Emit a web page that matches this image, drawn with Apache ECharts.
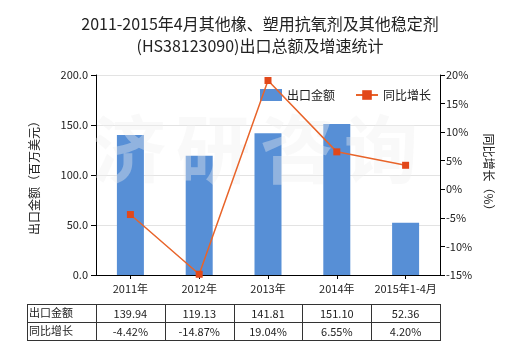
<!DOCTYPE html>
<html><head><meta charset="utf-8">
<script src="https://cdn.jsdelivr.net/npm/echarts@6/dist/echarts.min.js"></script>
<style>html,body{margin:0;padding:0;background:#fff}#c{width:520px;height:350px}</style>
</head><body><div id="c"></div>
<script>
const categories = ['2011年','2012年','2013年','2014年','2015年1-4月'];
const exportValues = [139.94, 119.13, 141.81, 151.10, 52.36];
const growthValues = [-4.42, -14.87, 19.04, 6.55, 4.20];
const exportLabels = ['139.94','119.13','141.81','151.10','52.36'];
const growthLabels = ['-4.42%','-14.87%','19.04%','6.55%','4.20%'];
const rowNames = ['出口金额','同比增长'];
const watermarkChars = ['济','研','咨','询'];

const FONT = '"Noto Sans CJK SC", "Noto Sans", sans-serif';
const chart = echarts.init(document.getElementById('c'), null, {renderer:'canvas'});
const option = {
  animation:false,
  textStyle:{fontFamily:FONT},
  title:{
    text:'2011-2015年4月其他橡、塑用抗氧剂及其他稳定剂\n(HS38123090)出口总额及增速统计',
    left:'center', top:8,
    textStyle:{fontSize:16, fontWeight:'normal', color:'#222', lineHeight:22, fontFamily:FONT}
  },
  legend:{
    top:84, left:255, itemGap:20, itemWidth:22, itemHeight:12,
    textStyle:{fontSize:12, color:'#222'},
    data:[{name:'出口金额', icon:'rect'},{name:'同比增长'}]
  },
  grid:{left:96, right:80, top:75, bottom:75},
  xAxis:{
    type:'category', data:categories,
    axisLine:{lineStyle:{color:'#000'}},
    axisTick:{show:true, alignWithLabel:true, length:4, lineStyle:{color:'#000'}},
    axisLabel:{fontSize:11, color:'#222', margin:8, interval:0}
  },
  yAxis:[
    {type:'value', min:0, max:200, interval:50,
     name:'出口金额（百万美元）', nameLocation:'middle', nameGap:56, nameRotate:90,
     nameTextStyle:{fontSize:12, color:'#222'},
     axisLine:{show:true, lineStyle:{color:'#000'}},
     axisTick:{show:true, length:5, lineStyle:{color:'#000'}},
     axisLabel:{fontSize:11, color:'#222', formatter:v=>v.toFixed(1)},
     splitLine:{lineStyle:{color:'#e3e3e3'}}},
    {type:'value', min:-15, max:20, interval:5,
     name:'同比增长（%）', nameLocation:'middle', nameGap:42, nameRotate:-90,
     nameTextStyle:{fontSize:12, color:'#222'},
     axisLine:{show:true, lineStyle:{color:'#000'}},
     axisTick:{show:true, length:5, lineStyle:{color:'#000'}},
     axisLabel:{fontSize:11, color:'#222', margin:6, formatter:v=>v+'%'},
     splitLine:{show:false}}
  ],
  series:[
    {name:'出口金额', type:'bar', data:exportValues, barWidth:27,
     itemStyle:{color:'#578fd6'}, z:2},
    {name:'同比增长', type:'line', yAxisIndex:1, data:growthValues,
     symbol:'rect', symbolSize:7,
     itemStyle:{color:'#e2481a'}, lineStyle:{color:'#e8642a', width:1.5}, z:4}
  ]
};
chart.setOption(option);

const centers = categories.map(c => chart.convertToPixel({xAxisIndex:0}, c));
const step = centers.length>1 ? centers[1]-centers[0] : 68;
const edges = [centers[0]-step/2].concat(centers.map(c=>c+step/2));
const tableLeft = 27, rowTops = [304, 322, 340];
const els = [];
const wmX = [92, 176, 260, 344];
watermarkChars.forEach((ch,i)=>els.push({type:'text', x:wmX[i], y:112, z:3, silent:true,
  style:{text:ch, font:'bold 74px '+FONT, fill:'rgba(240,240,240,0.38)', textVerticalAlign:'top', verticalAlign:'top'}}));
rowTops.forEach(y=>els.push({type:'line', shape:{x1:tableLeft,y1:y+0.5,x2:Math.round(edges[edges.length-1])+0.5,y2:y+0.5}, style:{stroke:'#333',lineWidth:1}}));
[tableLeft].concat(edges).forEach(x=>els.push({type:'line', shape:{x1:Math.round(x)+0.5,y1:rowTops[0],x2:Math.round(x)+0.5,y2:rowTops[2]+1}, style:{stroke:'#333',lineWidth:1}}));
rowNames.forEach((n,i)=>els.push({type:'text', x:tableLeft+2, y:(rowTops[i]+rowTops[i+1])/2,
  style:{text:n, font:'11px '+FONT, fill:'#222', textVerticalAlign:'middle', verticalAlign:'middle'}}));
[exportLabels, growthLabels].forEach((arr,r)=>arr.forEach((t,i)=>els.push({type:'text',
  x:centers[i], y:(rowTops[r]+rowTops[r+1])/2+1,
  style:{text:t, font:'11px '+FONT, fill:'#222', align:'center', textAlign:'center', verticalAlign:'middle', textVerticalAlign:'middle'}})));
chart.setOption({graphic:{elements:els}});
</script></body></html>
